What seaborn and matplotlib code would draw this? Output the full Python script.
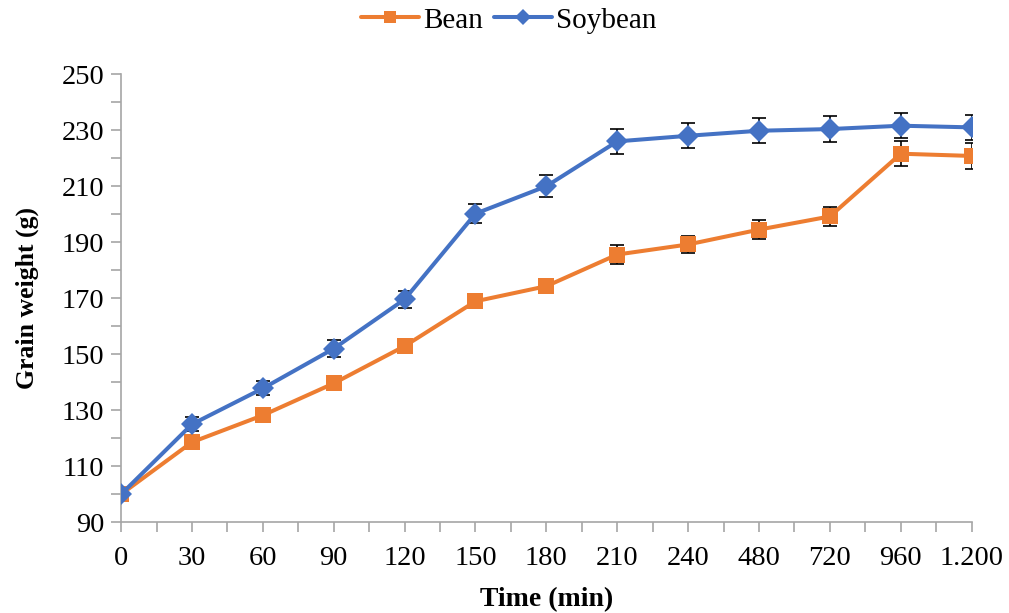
import seaborn as sns
import matplotlib.pyplot as plt
import numpy as np
import pandas as pd
from matplotlib.ticker import MultipleLocator

time_labels = ["0", "30", "60", "90", "120", "150", "180", "210", "240", "480", "720", "960", "1.200"]

bean = [100.0, 118.6, 128.2, 139.6, 152.9, 168.9, 174.3, 185.6, 189.2, 194.5, 199.2, 221.6, 220.8]
bean_err = [1.0, 1.5, 1.5, 2.0, 2.5, 2.5, 2.5, 3.5, 3.0, 3.5, 3.5, 4.5, 4.5]

soybean = [100.0, 125.0, 137.8, 152.0, 169.6, 200.2, 210.0, 226.0, 228.0, 229.8, 230.4, 231.6, 231.0]
soybean_err = [0.5, 2.5, 2.5, 3.0, 3.0, 3.5, 4.0, 4.5, 4.5, 4.5, 4.5, 4.5, 4.5]

y_ticks = [90, 110, 130, 150, 170, 190, 210, 230, 250]

series_names = ["Bean", "Soybean"]
colors = {"Bean": "#ED7D31", "Soybean": "#4472C4"}
markers = {"Bean": "s", "Soybean": "D"}

pos = np.arange(len(time_labels))
df = pd.DataFrame({
    "pos": np.concatenate([pos, pos]),
    "weight": bean + soybean,
    "err": bean_err + soybean_err,
    "series": ["Bean"] * len(pos) + ["Soybean"] * len(pos),
})

sns.set_style("white")
plt.rcParams["font.family"] = ["Liberation Serif", "DejaVu Serif"]
plt.rcParams["text.color"] = "black"
plt.rcParams["axes.labelcolor"] = "black"
plt.rcParams["xtick.color"] = "black"
plt.rcParams["ytick.color"] = "black"

fig = plt.figure(figsize=(10.09, 6.13), dpi=100)
ax = fig.add_axes([0.12, 0.148, 0.843, 0.731])

# error bars first, lines and markers on top
for name in series_names:
    sub = df[df["series"] == name]
    ax.errorbar(sub["pos"], sub["weight"], yerr=sub["err"], fmt="none",
                ecolor="black", elinewidth=1.2, capsize=5, capthick=1.2, zorder=2)

sns.lineplot(data=df, x="pos", y="weight", hue="series", style="series",
             palette=colors, markers=markers, dashes=False, linewidth=2.9,
             markersize=11.5, markeredgewidth=0, ax=ax, zorder=3)

ax.set_xlim(0, len(time_labels) - 1)
ax.set_ylim(90, 250)
ax.set_xticks(pos)
ax.set_xticklabels(time_labels)
ax.xaxis.set_minor_locator(MultipleLocator(0.5))
ax.set_yticks(y_ticks)
ax.yaxis.set_minor_locator(MultipleLocator(10))

for s in ["top", "right"]:
    ax.spines[s].set_visible(False)
for s in ["left", "bottom"]:
    ax.spines[s].set_color("#A6A6A6")
    ax.spines[s].set_linewidth(1.2)

ax.tick_params(axis="both", which="both", direction="out", color="#A6A6A6",
               width=1.2, bottom=True, left=True, labelcolor="black")
ax.tick_params(axis="both", which="major", length=7, labelsize=20.5)
ax.tick_params(axis="both", which="minor", length=7)
ax.tick_params(axis="x", which="major", pad=10)
ax.tick_params(axis="y", which="major", pad=5)

ax.set_xlabel("Time (min)", fontsize=20, fontweight="bold", labelpad=12, color="black")
ax.set_ylabel("Grain weight (g)", fontsize=18.5, fontweight="bold", labelpad=16, color="black")

handles, labels = ax.get_legend_handles_labels()
ax.legend(handles, labels, loc="center", bbox_to_anchor=(0.456, 1.12), ncol=2,
          frameon=False, fontsize=21, handlelength=2.0, columnspacing=0.35,
          handletextpad=0.15, markerscale=0.75)

fig.savefig("out.png", dpi=100)
